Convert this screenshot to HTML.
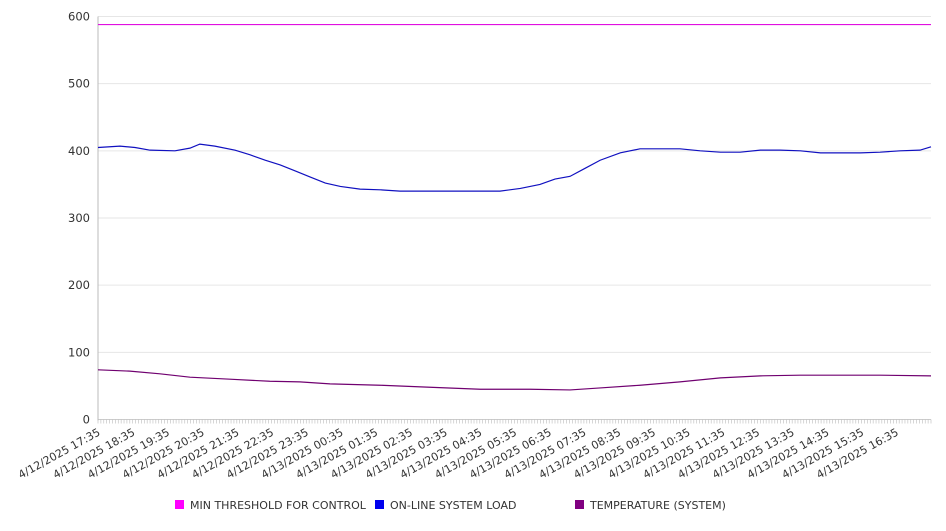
<!DOCTYPE html>
<html><head><meta charset="utf-8"><style>
body{margin:0;background:#fff;font-family:"Liberation Sans","DejaVu Sans",sans-serif}
svg text{font-family:"DejaVu Sans","Liberation Sans",sans-serif;fill:#333}
</style></head><body>
<svg id="chart" width="946" height="526" viewBox="0 0 946 526" xmlns="http://www.w3.org/2000/svg"></svg>
<script>
const tickLabels=["4/12/2025 17:35","4/12/2025 18:35","4/12/2025 19:35","4/12/2025 20:35","4/12/2025 21:35","4/12/2025 22:35","4/12/2025 23:35","4/13/2025 00:35","4/13/2025 01:35","4/13/2025 02:35","4/13/2025 03:35","4/13/2025 04:35","4/13/2025 05:35","4/13/2025 06:35","4/13/2025 07:35","4/13/2025 08:35","4/13/2025 09:35","4/13/2025 10:35","4/13/2025 11:35","4/13/2025 12:35","4/13/2025 13:35","4/13/2025 14:35","4/13/2025 15:35","4/13/2025 16:35"];
const yTicks=[0,100,200,300,400,500,600];
const loadMinutes=[0,38,64,90,133,159,176,202,237,263,289,315,341,367,393,419,453,488,522,557,592,626,661,695,730,764,790,816,842,868,903,937,972,1006,1041,1076,1110,1145,1179,1214,1249,1283,1318,1352,1387,1421,1440];
const loadValues=[405,407,405,401,400,404,410,407,401,394,386,379,370,361,352,347,343,342,340,340,340,340,340,340,344,350,358,362,374,386,397,403,403,403,400,398,398,401,401,400,397,397,397,398,400,401,406];
const tempMinutes=[0,55,107,159,228,297,349,401,488,574,661,747,816,868,937,1006,1076,1145,1214,1283,1352,1440];
const tempValues=[74,72,68,63,60,57,56,53,51,48,45,45,44,47,51,56,62,65,66,66,66,65];
const thresholdValue=588;
const totalMinutes=1440;

const svg=document.getElementById('chart');
const NS='http://www.w3.org/2000/svg';
const X0=98,X1=931,Y0=419.5,YTOP=16.5;
function xs(m){return X0+(X1-X0)*m/totalMinutes;}
function ys(v){return Y0-(Y0-YTOP)*v/600;}
function mk(tag,attrs){const e=document.createElementNS(NS,tag);for(const k in attrs)e.setAttribute(k,attrs[k]);svg.appendChild(e);return e;}

yTicks.forEach(v=>{
  const g=mk('line',{x1:X0,x2:X1,y1:ys(v),y2:ys(v),stroke:v===0?'#ccc':'#e6e6e6','stroke-width':1});
  
  
  const t=mk('text',{x:90,y:ys(v)+4,'text-anchor':'end','font-size':11.5});
  t.textContent=v;
  
  
});
const ax=mk('line',{x1:X0,x2:X0,y1:YTOP,y2:Y0+1,stroke:'#bbb'});


for(let m=0;m<=totalMinutes;m+=5){
  const tk=mk('line',{x1:xs(m),x2:xs(m),y1:Y0,y2:Y0+4,stroke:'#bbb','stroke-width':0.6});
  
  
}
tickLabels.forEach((lab,i)=>{
  const x=xs(i*60)+3,y=Y0+15;
  const t=mk('text',{x:x,y:y,'text-anchor':'end','font-size':11,transform:`rotate(-29 ${x} ${y})`});
  t.textContent=lab;
  
  
});
function line(ms,vs,color,name){
  const p=mk('polyline',{points:ms.map((m,i)=>xs(m)+','+ys(vs[i])).join(' '),fill:'none',stroke:color,'stroke-width':1.2});
  
  
}
line([0,totalMinutes],[thresholdValue,thresholdValue],'#e010e0','min-threshold-line');
line(loadMinutes,loadValues,'#1010c0','online-system-load-line');
line(tempMinutes,tempValues,'#700070','temperature-line');

const legend=[["MIN THRESHOLD FOR CONTROL","#ff00ff",175],["ON-LINE SYSTEM LOAD","#0000ee",375],["TEMPERATURE (SYSTEM)","#800080",575]];
legend.forEach(l=>{
  const r=mk('rect',{x:l[2],y:500,width:9,height:9,fill:l[1]});
  
  
  const t=mk('text',{x:l[2]+15,y:509,'font-size':11});
  t.textContent=l[0];
  
  
});
</script>
</body></html>
